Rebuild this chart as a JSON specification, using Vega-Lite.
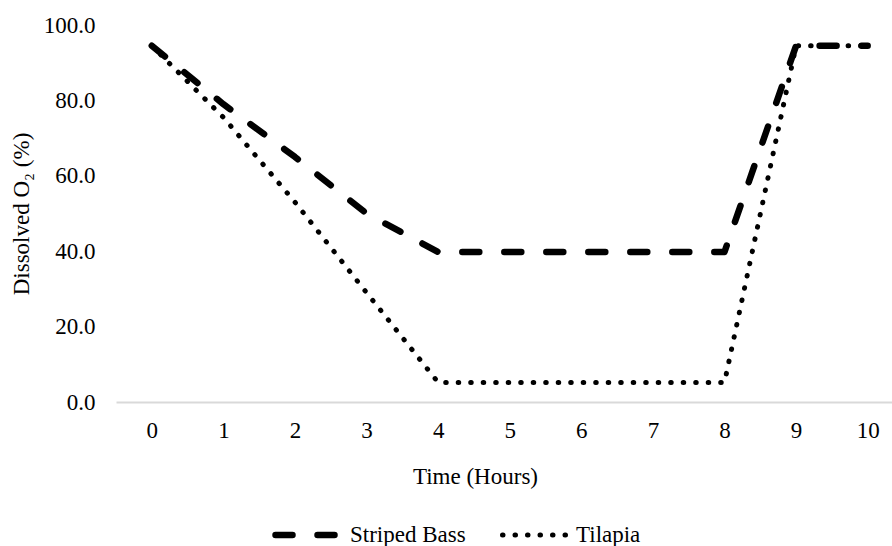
{
  "$schema": "https://vega.github.io/schema/vega-lite/v6.json",
  "autosize": "none",
  "width": 776,
  "height": 377,
  "padding": {"left": 116, "top": 25, "right": 0, "bottom": 144},
  "background": "white",
  "config": {
    "view": {"stroke": null},
    "font": "Liberation Serif",
    "axis": {"labelFont": "Liberation Serif", "titleFont": "Liberation Serif", "labelColor": "#000000", "titleColor": "#000000", "titleFontWeight": "normal", "grid": false, "ticks": false},
    "legend": {"labelFont": "Liberation Serif", "labelColor": "#000000", "labelFontSize": 23}
  },
  "data": {
    "values": [
      {"t": 0, "series": "Striped Bass", "o2": 94.5},
      {"t": 1, "series": "Striped Bass", "o2": 79},
      {"t": 2, "series": "Striped Bass", "o2": 65},
      {"t": 3, "series": "Striped Bass", "o2": 50},
      {"t": 4, "series": "Striped Bass", "o2": 39.8},
      {"t": 5, "series": "Striped Bass", "o2": 39.8},
      {"t": 6, "series": "Striped Bass", "o2": 39.8},
      {"t": 7, "series": "Striped Bass", "o2": 39.8},
      {"t": 8, "series": "Striped Bass", "o2": 39.8},
      {"t": 9, "series": "Striped Bass", "o2": 94.5},
      {"t": 10, "series": "Striped Bass", "o2": 94.5},
      {"t": 0, "series": "Tilapia", "o2": 94.5},
      {"t": 1, "series": "Tilapia", "o2": 75.5},
      {"t": 2, "series": "Tilapia", "o2": 53},
      {"t": 3, "series": "Tilapia", "o2": 29},
      {"t": 4, "series": "Tilapia", "o2": 5.2},
      {"t": 5, "series": "Tilapia", "o2": 5.2},
      {"t": 6, "series": "Tilapia", "o2": 5.2},
      {"t": 7, "series": "Tilapia", "o2": 5.2},
      {"t": 8, "series": "Tilapia", "o2": 5.2},
      {"t": 9, "series": "Tilapia", "o2": 94.5},
      {"t": 10, "series": "Tilapia", "o2": 94.5}
    ]
  },
  "mark": {"type": "line", "color": "#000000", "strokeCap": "round", "strokeJoin": "round"},
  "encoding": {
    "x": {
      "field": "t", "type": "quantitative",
      "scale": {"domain": [-0.5, 10.34], "nice": false, "zero": false},
      "axis": {
        "title": "Time (Hours)", "values": [0,1,2,3,4,5,6,7,8,9,10], "format": "d",
        "labelFontSize": 23, "titleFontSize": 23, "labelPadding": 17, "titlePadding": 23,
        "domainColor": "#d9d9d9", "domainWidth": 2, "titleX": 359
      }
    },
    "y": {
      "field": "o2", "type": "quantitative",
      "scale": {"domain": [0, 100], "nice": false},
      "axis": {
        "title": "Dissolved O₂ (%)", "values": [0,20,40,60,80,100], "format": ".1f",
        "labelFontSize": 23, "titleFontSize": 23, "labelPadding": 21, "titlePadding": 10,
        "domain": false
      }
    },
    "strokeDash": {
      "field": "series", "type": "nominal",
      "scale": {"domain": ["Striped Bass", "Tilapia"], "range": [[17, 25], [0.5, 12]]},
      "legend": {
        "title": null, "orient": "none", "direction": "horizontal",
        "legendX": 156, "legendY": 475,
        "symbolType": "stroke", "symbolSize": 3969, "symbolStrokeWidth": 6,
        "symbolStrokeColor": "#000000", "labelFontSize": 23, "labelFont": "Liberation Serif",
        "labelColor": "#000000", "labelOffset": 8, "columnPadding": 26,
        "encode": {
          "symbols": {"update": {"strokeCap": {"value": "round"}}},
          "labels": {"update": {"font": {"value": "Liberation Serif"}, "fontSize": {"value": 23}}}
        }
      }
    },
    "strokeWidth": {
      "field": "series", "type": "nominal",
      "scale": {"domain": ["Striped Bass", "Tilapia"], "range": [6.5, 5]},
      "legend": null
    }
  }
}
